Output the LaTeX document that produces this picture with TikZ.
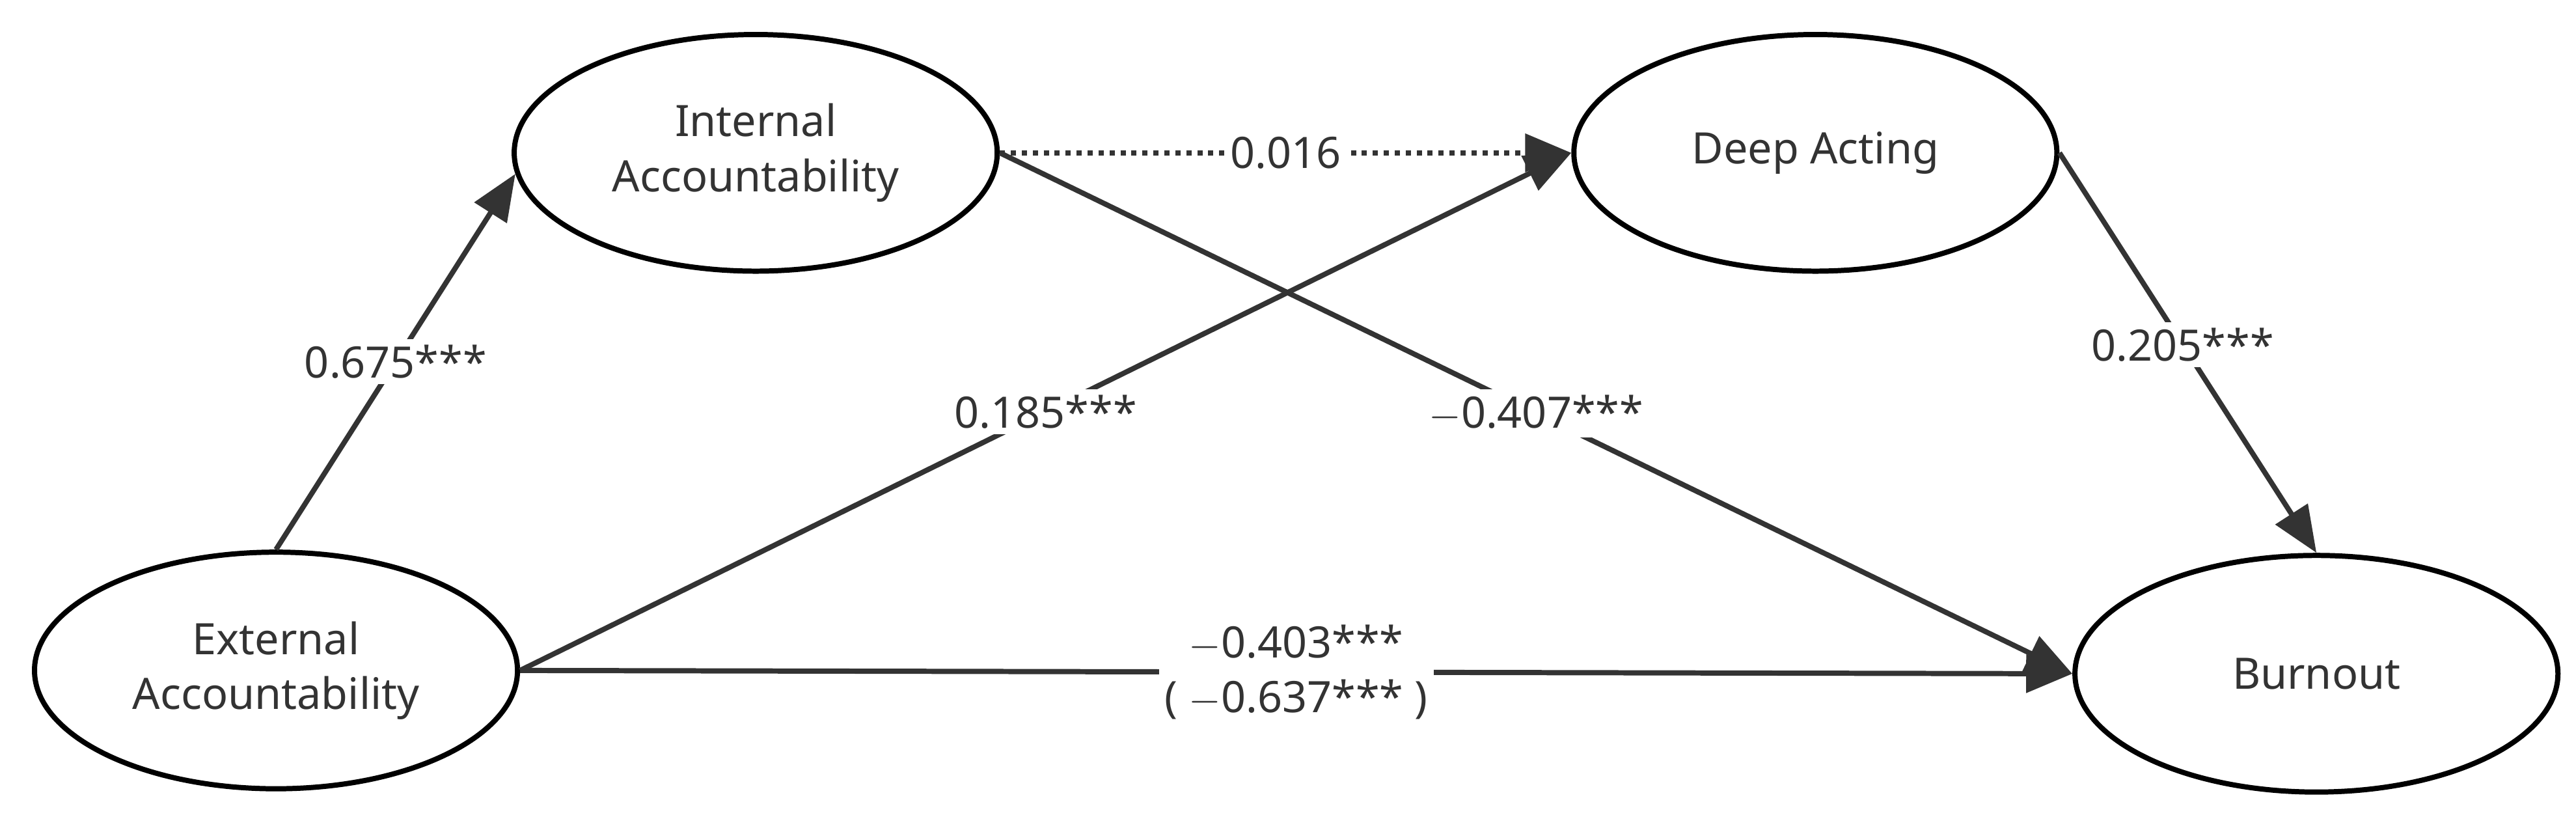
\documentclass[tikz,border=0pt]{standalone}
\usepackage{fontspec}
\setmainfont{Noto Sans}
\usetikzlibrary{shapes.geometric,arrows.meta}
\begin{document}
\begin{tikzpicture}[x=0.02cm,y=-0.02cm,
  lat/.style={ellipse,draw,line width=1.8pt,minimum width=294*0.02cm,minimum height=144*0.02cm,align=center,font=\fontsize{15}{19}\selectfont,text=black!80,inner sep=0pt},
  path/.style={line width=1.8pt,draw=black!80,-{Triangle[length=16pt,width=13pt]}},
  lbl/.style={fill=white,font=\fontsize{15}{19}\selectfont,text=black!80,inner sep=2pt,align=center}]
\useasboundingbox (0,0) rectangle (1568,505);
\node[lat] (int) at (460,93) {Internal\\Accountability};
\node[lat] (da) at (1105,93) {Deep Acting};
\node[lat] (ext) at (168,408) {External\\Accountability};
\node[lat] (bo) at (1410,410) {Burnout};
\draw[path] (ext.north) -- node[lbl,pos=0.5]{0.675***} (int.185);
\draw[path] (ext.east) -- node[lbl,pos=0.5]{0.185***} (da.west);
\draw[path] (int.east) -- node[lbl,pos=0.5]{$-$0.407***} (bo.west);
\draw[path,dotted] (int.east) -- node[lbl]{0.016} (da.west);
\draw[path] (da.east) -- node[lbl,pos=0.48]{0.205***} (bo.north);
\draw[path] (ext.east) -- node[lbl]{$-$0.403***\\( $-$0.637*** )} (bo.west);
\end{tikzpicture}
\end{document}
